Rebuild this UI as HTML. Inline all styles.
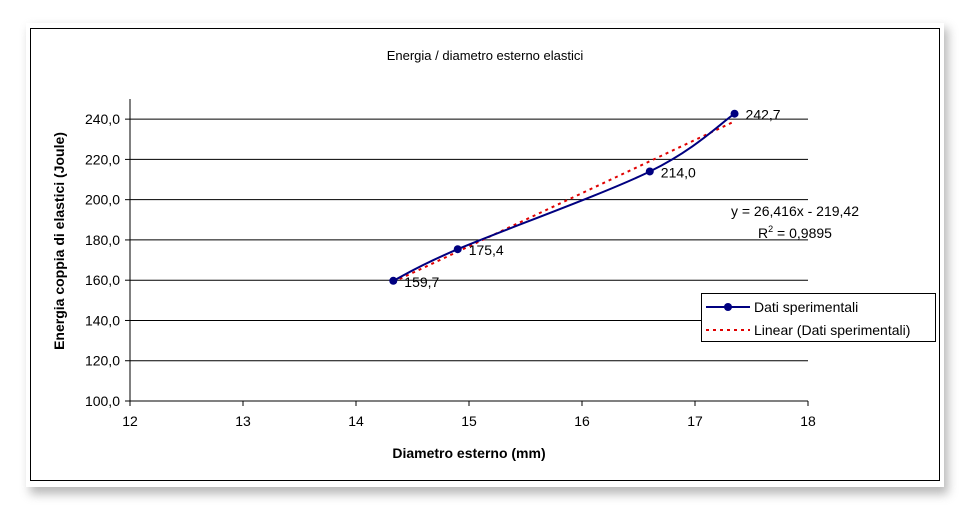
<!DOCTYPE html>
<html><head><meta charset="utf-8"><style>
body{margin:0;background:#fff;font-family:"Liberation Sans",sans-serif}
svg{display:block}
text{font-family:"Liberation Sans",sans-serif}
</style></head><body>
<svg width="970" height="517" viewBox="0 0 970 517">
<defs><filter id="sh" x="-5%" y="-5%" width="110%" height="115%"><feGaussianBlur stdDeviation="5"/></filter></defs>
<rect x="30" y="28" width="918" height="466" fill="#888" opacity="0.6" filter="url(#sh)"/>
<rect x="26" y="23" width="918" height="464" fill="#fff"/>
<rect x="30.5" y="28.5" width="909" height="452" fill="#fff" stroke="#000"/>
<text x="485" y="60" font-size="13" text-anchor="middle">Energia / diametro esterno elastici</text>
<g id="grid"></g><g id="axes"></g><g id="series"></g>
<text x="469" y="458" font-size="14" font-weight="bold" text-anchor="middle">Diametro esterno (mm)</text>
<text transform="translate(64,241) rotate(-90)" font-size="14" font-weight="bold" text-anchor="middle">Energia coppia di elastici (Joule)</text>
<text x="795" y="216" font-size="14" text-anchor="middle">y = 26,416x - 219,42</text>
<text x="795" y="238" font-size="14" text-anchor="middle">R<tspan font-size="9" dy="-6">2</tspan><tspan dy="6"> = 0,9895</tspan></text>
<g>
<rect x="701.5" y="293.5" width="234" height="48" fill="#fff" stroke="#000"/>
<line x1="706" y1="307" x2="750" y2="307" stroke="#000080" stroke-width="2"/>
<circle cx="728" cy="307" r="4" fill="#000080"/>
<text x="754" y="312" font-size="14">Dati sperimentali</text>
<line x1="706" y1="330" x2="750" y2="330" stroke="#e00000" stroke-width="2" stroke-dasharray="3,4"/>
<text x="754" y="335" font-size="14">Linear (Dati sperimentali)</text>
</g>
</svg>
<script>
const xVals=[14.33,14.9,16.6,17.35];
const yVals=[159.7,175.4,214.0,242.7];
const pointLabels=["159,7","175,4","214,0","242,7"];
const xTicks=[12,13,14,15,16,17,18];
const yTicks=[100,120,140,160,180,200,220,240];
const slope=26.416, intercept=-219.42;
const NS="http://www.w3.org/2000/svg";
const X0=130,X1=808,Y0=401,YTOP=99;
const xs=v=>X0+(v-12)/6*(X1-X0);
const ys=v=>Y0-(v-100)/150*(Y0-YTOP);
function mk(t,a,p){const e=document.createElementNS(NS,t);for(const k in a)e.setAttribute(k,a[k]);(p||document.querySelector('svg')).appendChild(e);return e;}
const grid=document.getElementById('grid'),axes=document.getElementById('axes'),ser=document.getElementById('series');
yTicks.forEach(v=>{
 if(v>100){const g=mk('line',{x1:X0,x2:X1,y1:ys(v),y2:ys(v),stroke:'#000','stroke-width':1},grid);
 
 }
 const tk=mk('line',{x1:X0-5,x2:X0,y1:ys(v),y2:ys(v),stroke:'#000'},axes);
 
 
 const t=mk('text',{x:X0-10,y:ys(v)+5,'font-size':14,'text-anchor':'end'},axes);
 t.textContent=v.toFixed(1).replace('.',',');
 
 
});
xTicks.forEach(v=>{
 const tk=mk('line',{x1:xs(v),x2:xs(v),y1:Y0,y2:Y0+5,stroke:'#000'},axes);
 
 
 const t=mk('text',{x:xs(v),y:Y0+25,'font-size':14,'text-anchor':'middle'},axes);
 t.textContent=v;
 
 
});
const ya=mk('line',{x1:X0,x2:X0,y1:YTOP,y2:Y0,stroke:'#000'},axes);


const xa=mk('line',{x1:X0,x2:X1,y1:Y0,y2:Y0,stroke:'#000'},axes);


// trendline
const tx0=xVals[0],tx1=xVals[xVals.length-1];
const tl=mk('line',{x1:xs(tx0),y1:ys(slope*tx0+intercept),x2:xs(tx1),y2:ys(slope*tx1+intercept),stroke:'#e00000','stroke-width':2,'stroke-dasharray':'3,4'},ser);


// smoothed series
const P=xVals.map((x,i)=>[xs(x),ys(yVals[i])]);
let d=`M${P[0][0]},${P[0][1]}`;
for(let i=0;i<P.length-1;i++){
 const p0=P[Math.max(0,i-1)],p1=P[i],p2=P[i+1],p3=P[Math.min(P.length-1,i+2)];
 const t=1/6;
 d+=` C${p1[0]+(p2[0]-p0[0])*t},${p1[1]+(p2[1]-p0[1])*t} ${p2[0]-(p3[0]-p1[0])*t},${p2[1]-(p3[1]-p1[1])*t} ${p2[0]},${p2[1]}`;
}
const ln=mk('path',{d:d,fill:'none',stroke:'#000080','stroke-width':2},ser);


P.forEach((p,i)=>{
 const c=mk('circle',{cx:p[0],cy:p[1],r:4,fill:'#000080'},ser);
 
 
 const t=mk('text',{x:p[0]+11,y:p[1]+6,'font-size':14},ser);
 t.textContent=pointLabels[i];
 
 
});
</script>
</body></html>
